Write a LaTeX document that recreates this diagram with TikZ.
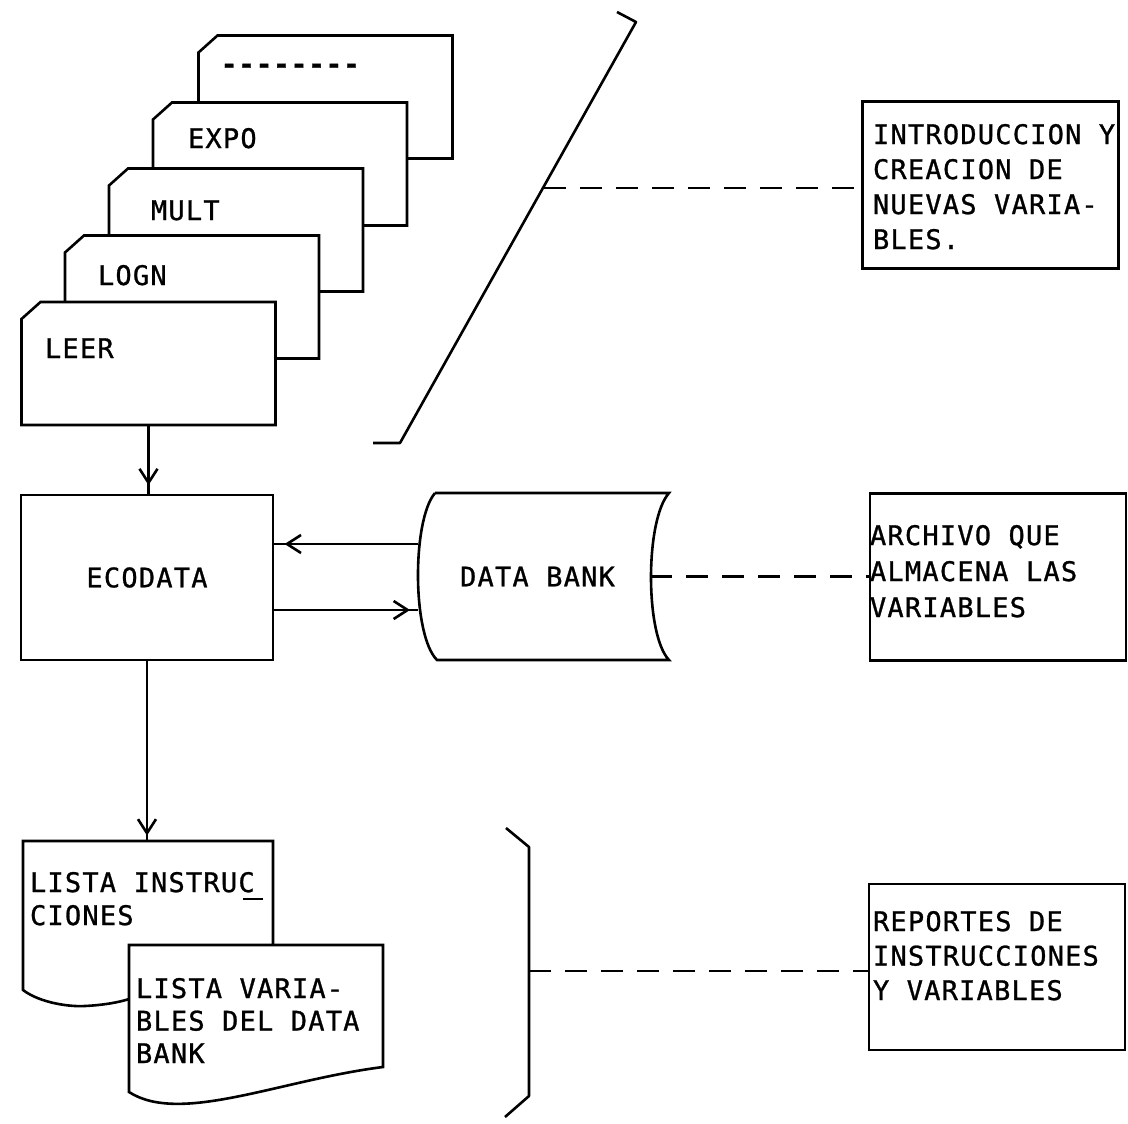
\documentclass[tikz,border=0pt]{standalone}
\usepackage{fontspec}
\newfontfamily\tw{DejaVu Sans Mono}[LetterSpace=4.5,FakeBold=1]
\usetikzlibrary{arrows.meta,decorations.markings}
\begin{document}
\begin{tikzpicture}[x=1pt,y=-1pt,
  ln/.style={line width=2.6pt},
  cardline/.style={ln, draw=black, fill=white, line join=miter},
  area/.style={inner sep=0pt, outer sep=0pt},
  cardarea/.style={area, minimum width=254pt, minimum height=123pt},
  txt/.style={font=\tw\fontsize{27}{#1}\selectfont, inner sep=0pt, outer sep=0pt, align=left},
  txt/.default=35,
  boxnode/.style={ln, area, font=\tw\fontsize{27}{35}\selectfont},
  dashline/.style={ln, draw=black, dash pattern=on 22pt off 14pt},
  arrowat/.style={postaction={decorate}, decoration={markings,
      mark=at position #1 with {\arrow{Straight Barb[length=14pt,width=18pt]}}}}
]
\useasboundingbox[fill=white] (0,0) rectangle (1128,1124);

% ---- stack of cards (back to front)
\node[cardarea] (c5) at (325.5,97) {};
\draw[cardline] ([yshift=-17pt]c5.north west) -- ([xshift=19pt]c5.north west) -- (c5.north east) -- (c5.south east) -- (c5.south west) -- cycle;
\node[txt, anchor=base west] (c5txt) at (221,73.5) {\bfseries -{}-{}-{}-{}-{}-{}-{}-};

\node[cardarea] (expo) at (280,164) {};
\draw[cardline] ([yshift=-17pt]expo.north west) -- ([xshift=19pt]expo.north west) -- (expo.north east) -- (expo.south east) -- (expo.south west) -- cycle;
\node[txt, anchor=base west] (expotxt) at (188,148) {EXPO};

\node[cardarea] (mult) at (236,230) {};
\draw[cardline] ([yshift=-17pt]mult.north west) -- ([xshift=19pt]mult.north west) -- (mult.north east) -- (mult.south east) -- (mult.south west) -- cycle;
\node[txt, anchor=base west] (multtxt) at (151,220) {MULT};

\node[cardarea] (logn) at (192,297) {};
\draw[cardline] ([yshift=-17pt]logn.north west) -- ([xshift=19pt]logn.north west) -- (logn.north east) -- (logn.south east) -- (logn.south west) -- cycle;
\node[txt, anchor=base west] (logntxt) at (98,285) {LOGN};

\node[cardarea] (leer) at (148.5,363.5) {};
\draw[cardline] ([yshift=-17pt]leer.north west) -- ([xshift=19pt]leer.north west) -- (leer.north east) -- (leer.south east) -- (leer.south west) -- cycle;
\node[txt, anchor=base west] (leertxt) at (45,358) {LEER};

% ---- slanted bracket
\draw[ln, draw=black, line join=round] (617,12) -- (636,22) -- (400,443) -- (373,443);
\coordinate (slant) at (544,188);

% ---- right-hand comment boxes
\node[boxnode, draw=black, minimum width=255.6pt, minimum height=166.6pt] (box1) at (990.5,185) {};
\node[txt, anchor=north west] (box1txt) at (873,124) {INTRODUCCION Y\\CREACION DE\\NUEVAS VARIA-\\BLES.};

\node[boxnode, draw=black, minimum width=256pt, minimum height=167.4pt] (box2) at (998,577) {};
\node[txt=36, anchor=north west] (box2txt) at (870,525) {ARCHIVO QUE\\ALMACENA LAS\\VARIABLES};

\node[boxnode, draw=black, minimum width=256pt, minimum height=166pt] (box3) at (997,967) {};
\node[txt=34.5, anchor=north west] (box3txt) at (873,911) {REPORTES DE\\INSTRUCCIONES\\Y VARIABLES};

% ---- ECODATA and DATA BANK
\node[boxnode, draw=black, minimum width=252pt, minimum height=165pt] (eco) at (147,577.5) {ECODATA};
\node[boxnode, minimum width=251pt, minimum height=167pt] (db) at (543.5,576.5) {\hspace*{-12pt}DATA BANK};
\draw[ln, draw=black] (435,493) -- (669,493)
  .. controls (645,520) and (645,635) .. (669,660)
  -- (437,660)
  .. controls (412,635) and (412,520) .. (435,493);

% ---- documents
\node[area, minimum width=250pt, minimum height=149pt] (doc1) at (148,915.5) {};
\draw[ln, draw=black, fill=white] (23,990) -- (23,841) -- (273,841) -- (273,999) -- (129,999)
  .. controls (120,1002) and (105,1005) .. (85,1006)
  .. controls (70,1007) and (40,1003) .. (23,990) -- cycle;
\node[txt=33, anchor=north west] (doc1txt) at (30,872) {LISTA INSTRUC\\CIONES};
\draw[ln, draw=black] (243,899) -- (263,899);

\node[area, minimum width=254pt, minimum height=122pt] (doc2) at (256,1006) {};
\draw[ln, draw=black, fill=white] (129,945) -- (383,945) -- (383,1067)
  .. controls (280,1080) and (180,1125) .. (129,1092) -- cycle;
\node[txt=32.5, anchor=north west] (doc2txt) at (136,978) {LISTA VARIA-\\BLES DEL DATA\\BANK};

% ---- bottom bracket
\draw[ln, draw=black, line join=round] (506,828) -- (529,847) -- (529,1096) -- (505,1117);
\coordinate (brk) at (529,971);

% ---- connectors
\draw[ln, draw=black, arrowat=0.86] (leer.south) -- (leer.south |- eco.north);
\draw[ln, draw=black, arrowat=0.97] (eco.south) -- (eco.south |- doc1.north);
\coordinate (dbA) at ([yshift=32.5pt]db.west);
\coordinate (ecoB) at ([yshift=-32.5pt]eco.east);
\draw[ln, draw=black, arrowat=0.92] (dbA) -- (dbA -| eco.east);
\draw[ln, draw=black, arrowat=0.945] (ecoB) -- (ecoB -| db.west);

\draw[dashline] (slant) -- (slant -| box1.west);
\coordinate (dbR) at ([xshift=-19pt]db.east);
\draw[dashline] (dbR) -- (dbR -| box2.west);
\draw[dashline] (brk) -- (brk -| box3.west);
\end{tikzpicture}
\end{document}
